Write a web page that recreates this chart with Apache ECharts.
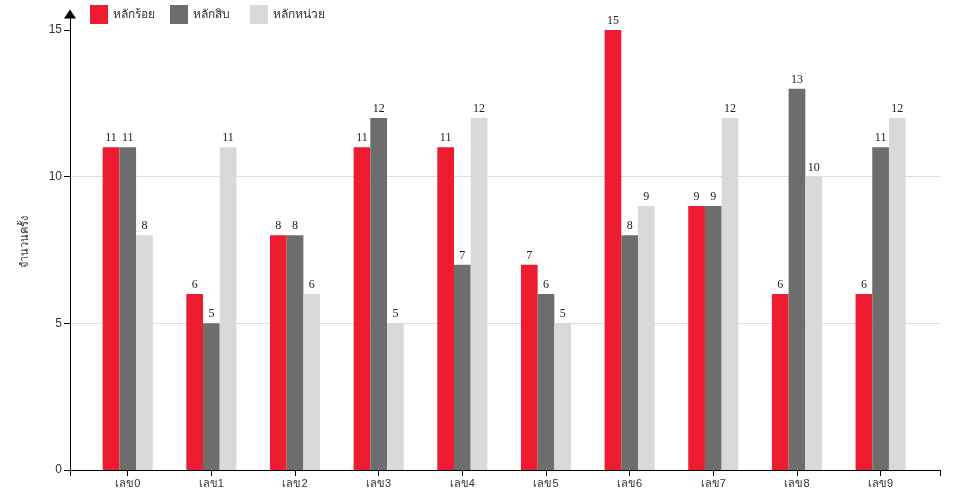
<!DOCTYPE html>
<html><head><meta charset="utf-8">
<script src="https://cdn.jsdelivr.net/npm/echarts@6/dist/echarts.min.js"></script>
<style>html,body{margin:0;padding:0;background:#fff}#c{width:960px;height:500px}</style>
</head><body><div id="c"></div>
<script>
const categories = ['เลข0','เลข1','เลข2','เลข3','เลข4','เลข5','เลข6','เลข7','เลข8','เลข9'];
const seriesNames = ['หลักร้อย','หลักสิบ','หลักหน่วย'];
const hundreds = [11,6,8,11,11,7,15,9,6,6];
const tens = [11,5,8,12,7,6,8,9,13,11];
const units = [8,11,6,5,12,5,9,12,10,12];
const yTicks = [0,5,10,15];
const colors = ['#ed1c30','#6d6d6d','#d9d9d9'];
const values = [hundreds, tens, units];

const chart = echarts.init(document.getElementById('c'));
const xMin = -0.69, xMax = 9.71;
const idx = categories.map((c,i)=>i);
chart.setOption({
  animation:false,
  grid:{left:70,right:20,top:14,bottom:30},
  legend: seriesNames.map((n,i)=>({data:[n],left:85+80*i,top:0,itemWidth:18,itemHeight:19,itemGap:0,icon:'rect',
    textStyle:{fontSize:12,color:'#333',fontFamily:'sans-serif'}})),
  xAxis:{type:'value',min:xMin,max:xMax,splitLine:{show:false},
    axisLine:{show:true,onZero:false,lineStyle:{color:'#000',width:1}},
    axisTick:{show:true,length:6,lineStyle:{color:'#000'},customValues:[xMin].concat(idx,[xMax])},
    axisLabel:{customValues:idx,formatter:v=>categories[Math.round(v)],color:'#333',fontSize:11,margin:8,fontFamily:'sans-serif'}},
  yAxis:{type:'value',min:0,max:15.545,
    name:'จำนวนครั้ง',nameLocation:'middle',nameGap:40,nameRotate:90,nameTextStyle:{fontSize:11,color:'#333'},
    axisLine:{show:true,onZero:false,symbol:['none','triangle'],symbolSize:[12,9],lineStyle:{color:'#000',width:1}},
    axisTick:{show:true,length:6,lineStyle:{color:'#000'},customValues:yTicks},
    axisLabel:{customValues:yTicks,color:'#333',fontSize:12,fontFamily:'sans-serif'},
    splitLine:{show:true,showMaxLine:false,showMinLine:false,lineStyle:{color:'#ddd'}}},
  series: seriesNames.map((n,i)=>({name:n,type:'bar',barWidth:16.7,barGap:'0%',
    itemStyle:{color:colors[i]},
    label:{show:true,position:'top',distance:3,fontFamily:'Liberation Serif',fontSize:12,color:'#222'},
    data: values[i].map((v,j)=>[j,v])}))
});
</script></body></html>
